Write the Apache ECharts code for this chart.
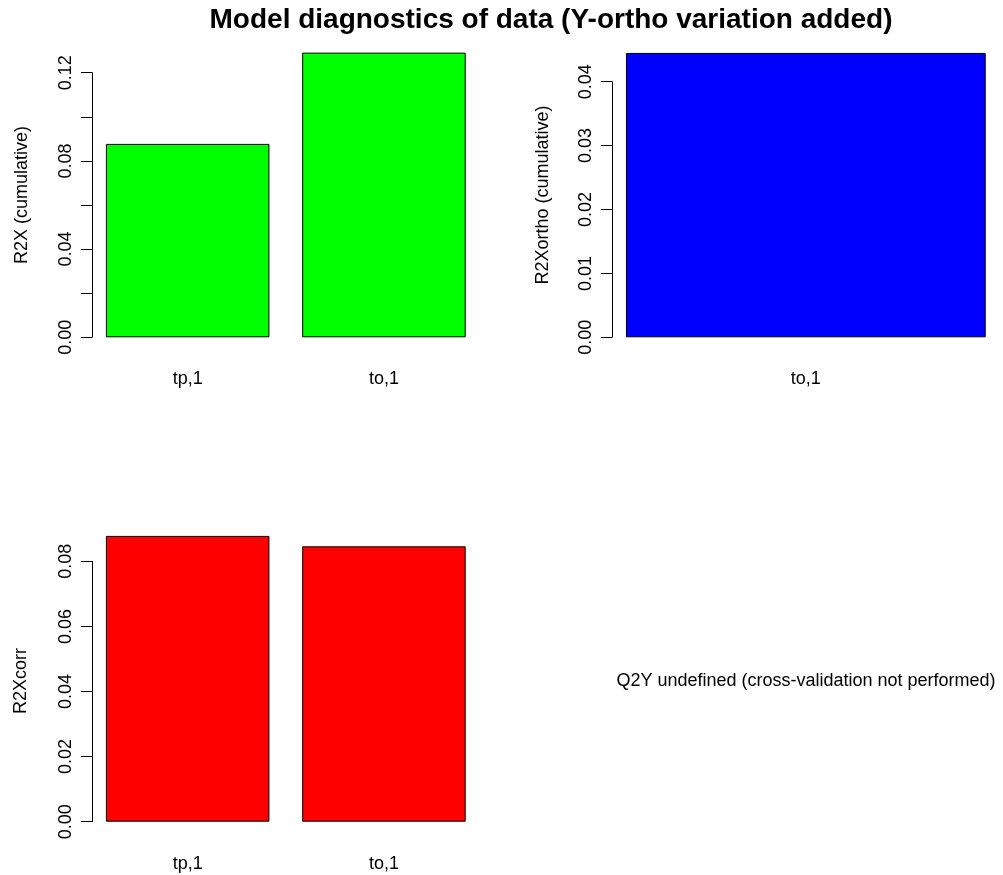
<!DOCTYPE html>
<html>
<head>
<meta charset="utf-8">
<title>Model diagnostics of data</title>
<script src="https://cdn.jsdelivr.net/npm/echarts@6/dist/echarts.min.js"></script>
<style>
  html, body { margin: 0; padding: 0; background: #fff; }
  #chart { width: 1003px; height: 875px; }
</style>
</head>
<body>
<div id="chart"></div>
<script>
// Predictive and orthogonal components
const componentCats = ['tp,1', 'to,1'];
const orthoCats = ['to,1'];

// Explained variation per panel
const r2xCumulative = [0.0877, 0.1291];
const r2xOrthoCumulative = [0.0445];
const r2xCorr = [0.0878, 0.0846];

// Tick labels that are printed on each value axis
const r2xTickLabels = ['0.00', '0.04', '0.08', '0.12'];
const orthoTickLabels = ['0.00', '0.01', '0.02', '0.03', '0.04'];
const corrTickLabels = ['0.00', '0.02', '0.04', '0.06', '0.08'];

const FONT = "'Liberation Sans', Arial, Helvetica, sans-serif";
const W = 1003, H = 875;

function valueAxis(gridIndex, max, step, shown) {
  return {
    type: 'value',
    gridIndex: gridIndex,
    min: 0,
    max: max,
    interval: step,
    offset: gridIndex === 1 ? 0 : -2.5,
    splitLine: { show: false },
    axisLine: { show: true, lineStyle: { color: '#000', width: 1 } },
    axisTick: { show: true, inside: false, length: 11, lineStyle: { color: '#000', width: 1 } },
    axisLabel: {
      show: true,
      rotate: 90,
      margin: 17,
      color: '#000',
      fontSize: 18,
      fontFamily: FONT,
      formatter: function (v) {
        const s = v.toFixed(2);
        return shown.indexOf(s) >= 0 ? s : '';
      }
    }
  };
}

function categoryAxis(gridIndex, cats) {
  return {
    type: 'category',
    gridIndex: gridIndex,
    data: cats,
    axisLine: { show: false },
    axisTick: { show: false },
    splitLine: { show: false },
    axisLabel: { margin: 33, color: '#000', fontSize: 18, fontFamily: FONT }
  };
}

function barSeries(idx, values, color, gap) {
  return {
    type: 'bar',
    xAxisIndex: idx,
    yAxisIndex: idx,
    data: values,
    barCategoryGap: gap,
    clip: false,
    silent: true,
    itemStyle: { color: color, borderColor: '#000', borderWidth: 1 }
  };
}

function label(text, x, y, rot, size, weight) {
  return {
    type: 'text',
    x: x,
    y: y,
    rotation: rot,
    silent: true,
    style: {
      text: text,
      fill: '#000',
      font: (weight || 'normal') + ' ' + size + 'px ' + FONT,
      textAlign: 'center',
      textVerticalAlign: 'middle'
    }
  };
}

const chart = echarts.init(document.getElementById('chart'), null, { renderer: 'canvas', width: W, height: H });

chart.setOption({
  animation: false,
  backgroundColor: '#fff',
  grid: [
    { left: 89.5, width: 392.6, top: 72.7, height: 264.6 },
    { left: 612, width: 387.7, top: 81.7, height: 255.6 },
    { left: 89.5, width: 392.6, top: 561.3, height: 260.4 }
  ],
  xAxis: [
    categoryAxis(0, componentCats),
    categoryAxis(1, orthoCats),
    categoryAxis(2, componentCats)
  ],
  yAxis: [
    valueAxis(0, 0.12, 0.02, r2xTickLabels),
    valueAxis(1, 0.04, 0.01, orthoTickLabels),
    valueAxis(2, 0.08, 0.02, corrTickLabels)
  ],
  series: [
    barSeries(0, r2xCumulative, '#00ff00', '16.7%'),
    barSeries(1, r2xOrthoCumulative, '#0000ff', '7.2%'),
    barSeries(2, r2xCorr, '#ff0000', '16.7%')
  ],
  graphic: [
    label('Model diagnostics of data (Y-ortho variation added)', 551, 20.5, 0, 28, 'bold'),
    label('R2X (cumulative)', 22, 195, Math.PI / 2, 18),
    label('R2Xortho (cumulative)', 543, 195, Math.PI / 2, 18),
    label('R2Xcorr', 21, 681, Math.PI / 2, 18),
    label('Q2Y undefined (cross-validation not performed)', 806, 681, 0, 18)
  ]
});
</script>
</body>
</html>
